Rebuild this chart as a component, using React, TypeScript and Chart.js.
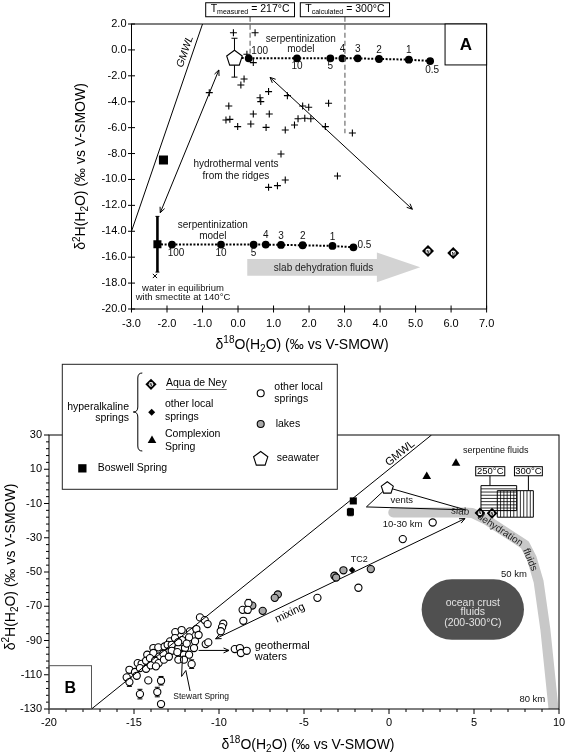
import React, { useEffect, useRef } from 'react';
import { Chart, registerables } from 'chart.js';

Chart.register(...registerables);

const FONT = '"Liberation Sans", Arial, Helvetica, sans-serif';
Chart.defaults.font.family = FONT;
Chart.defaults.color = '#000';

// ================= Panel A data =================
const tickAX = [-3, -2, -1, 0, 1, 2, 3, 4, 5, 6, 7];
const tickAY = [-20, -18, -16, -14, -12, -10, -8, -6, -4, -2, 0, 2];

const ventsX = [-0.13, 0.48, 0.25, 0.43, 0.17, 0.08, -0.81, 0.86, 0.62, 0.64,
  1.39, -0.26, 0.43, 0.88, -0.34, -0.23, -0.01, 0.36, 0.79, 1.33,
  1.59, 1.69, 1.88, 2.05, 1.82, 1.99, 2.55, 2.46, 3.22, 1.21,
  2.80, 0.86, 1.11, 1.33];
const ventsY = [1.33, 1.33, -0.34, -0.98, -2.25, -2.71, -3.30, -3.22, -3.69, -3.99,
  -3.53, -4.33, -4.95, -4.95, -5.41, -5.36, -5.92, -5.72, -5.98, -6.18,
  -5.80, -5.31, -5.28, -5.31, -4.33, -4.43, -4.12, -5.92, -6.41, -8.03,
  -9.73, -10.61, -10.48, -10.04];

const seawaterX = [-0.1];
const seawaterY = [-0.6];
const seawaterErr = [1.5];

const serpTopX = [0.30, 1.66, 2.60, 2.94, 3.37, 3.97, 4.81, 5.41];
const serpTopY = [-0.65, -0.65, -0.65, -0.65, -0.65, -0.70, -0.75, -0.86];
const serpLowX = [-1.86, -0.48, 0.44, 0.78, 1.21, 1.82, 2.66, 3.25];
const serpLowY = [-15.03, -15.03, -15.03, -15.03, -15.05, -15.08, -15.13, -15.24];
const serpLabels = ['100', '10', '5', '4', '3', '2', '1', '0.5'];

const boswellX = [-2.1, -2.27];
const boswellY = [-8.5, -15.0];
const boswellErr = [0, 2.15];

const smectiteX = [-2.34];
const smectiteY = [-17.45];

const adnX = [5.35, 6.06];
const adnY = [-15.52, -15.68];

const gmwlAX = [-3, -1];
const gmwlAY = [-14, 2];

const tLineX = [0.34, 3.01];
const tLineTop = [2.56, 2.56];
const tLineBottom = [-0.26, -6.44];
const tSub = ['measured', 'calculated'];
const tValue = ['217°C', '300°C'];

// ================= Panel B data =================
const tickBX = [-20, -15, -10, -5, 0, 5, 10];
const tickBY = [-130, -110, -90, -70, -50, -30, -10, 10, 30];

const springsX = [
  -11.12, -10.84, -10.67, -12.57, -12.20, -11.71, -11.33, -12.88, -12.59, -12.18,
  -11.76, -11.41, -10.78, -10.63, -13.86, -13.57, -13.20, -13.02, -12.78, -12.39,
  -12.00, -11.47, -14.22, -13.86, -13.51, -13.27, -12.78, -12.45, -12.06, -11.76,
  -14.78, -14.55, -14.29, -14.06, -13.76, -13.55, -13.24, -12.39, -12.06, -11.61,
  -15.27, -14.94, -14.65, -14.29, -14.02, -13.71, -14.16, -14.84, -15.43, -15.27,
  -14.65, -13.63, -13.41, -13.41, -12.95, -11.90, -12.40, -11.20, -9.75, -9.82,
  -9.90, -8.27, -8.61, -8.31, -8.57, -9.07, -8.77, -8.71, -8.37, -4.21,
  -1.80, 0.81, 2.57];
const springsY = [
  -76.5, -78.1, -80.4, -85.1, -83.9, -84.7, -83.3, -90.5, -88.6, -89.8,
  -88.2, -90.5, -92.1, -91.1, -94.4, -94.0, -93.5, -92.5, -92.5, -94.4,
  -94.4, -94.4, -98.3, -97.3, -99.3, -97.7, -96.0, -96.8, -98.3, -98.3,
  -103.2, -103.6, -101.8, -100.3, -101.8, -103.2, -101.2, -101.2, -101.2, -103.8,
  -107.1, -108.4, -106.1, -106.5, -104.5, -105.1, -113.3, -110.6, -111.5, -114.3,
  -121.3, -120.1, -113.5, -127.1, -99.5, -91.8, -91.0, -86.8, -80.2, -82.2,
  -84.6, -68.2, -72.1, -72.1, -78.5, -95.0, -94.4, -97.3, -96.0, -65.1,
  -59.2, -30.8, -21.1];

const lakesX = [-8.04, -7.43, -6.54, -6.72, -3.21, -3.11, -2.68, -1.07];
const lakesY = [-69.6, -72.7, -63.1, -65.1, -52.2, -53.2, -49.0, -48.3];

const otherHypX = [-12.15, -2.17];
const otherHypY = [-95.5, -48.9];

const complexionX = [2.22, 3.94];
const complexionY = [5.7, 13.5];

const errBX = [-11.61, -15.27, -14.65, -13.63, -13.41, -8.27, -8.31];
const errBY = [-103.8, -114.3, -121.3, -120.1, -113.5, -68.2, -72.1];
const errBE = [2.5, 2.5, 2.8, 2.8, 2.5, 2.2, 2.0];

const gmwlBX = [-17.5, 2.5];
const gmwlBY = [-130, 30];

const bandX = [0.25, 4.4, 4.9, 5.75, 7.1, 8.0, 8.4, 8.8, 9.2, 9.7];
const bandY = [-15.3, -15.2, -15.6, -19.6, -28.3, -34.2, -42.0, -55.6, -83.7, -132];

// ================= helpers =================
type Part = { t: string; s?: 'sup' | 'sub' };

function txt(ctx: any, s: string, x: number, y: number, size: number, o: any = {}) {
  ctx.save();
  ctx.translate(x, y);
  if (o.rot) ctx.rotate(o.rot);
  ctx.font = `${o.italic ? 'italic ' : ''}${o.bold ? 'bold ' : ''}${size}px ${FONT}`;
  ctx.fillStyle = o.color || '#000';
  ctx.textAlign = o.align || 'center';
  ctx.textBaseline = 'middle';
  ctx.fillText(s, 0, 0);
  ctx.restore();
}

function rich(ctx: any, parts: Part[], x: number, y: number, size: number, rot = 0, subScale = 0.68) {
  ctx.save();
  ctx.translate(x, y);
  ctx.rotate(rot);
  ctx.textBaseline = 'middle';
  ctx.textAlign = 'left';
  ctx.fillStyle = '#000';
  const fontOf = (p: Part) => `${p.s ? Math.round(size * subScale) : size}px ${FONT}`;
  let w = 0;
  const ws = parts.map((p) => { ctx.font = fontOf(p); const m = ctx.measureText(p.t).width; w += m; return m; });
  let cx = -w / 2;
  parts.forEach((p, i) => {
    ctx.font = fontOf(p);
    const dy = p.s === 'sup' ? -size * 0.33 : p.s === 'sub' ? size * 0.3 : 0;
    ctx.fillText(p.t, cx, dy);
    cx += ws[i];
  });
  ctx.restore();
  return w;
}

function richWidth(ctx: any, parts: Part[], size: number, subScale = 0.68) {
  let w = 0;
  ctx.save();
  parts.forEach((p) => { ctx.font = `${p.s ? Math.round(size * subScale) : size}px ${FONT}`; w += ctx.measureText(p.t).width; });
  ctx.restore();
  return w;
}

function head(ctx: any, x1: number, y1: number, x2: number, y2: number, size: number) {
  const a = Math.atan2(y2 - y1, x2 - x1);
  ctx.beginPath();
  ctx.moveTo(x2 - size * Math.cos(a - 0.42), y2 - size * Math.sin(a - 0.42));
  ctx.lineTo(x2, y2);
  ctx.lineTo(x2 - size * Math.cos(a + 0.42), y2 - size * Math.sin(a + 0.42));
  ctx.stroke();
}

function arrow(ctx: any, x1: number, y1: number, x2: number, y2: number, both: boolean, size = 6) {
  ctx.beginPath();
  ctx.moveTo(x1, y1);
  ctx.lineTo(x2, y2);
  ctx.stroke();
  head(ctx, x1, y1, x2, y2, size);
  if (both) head(ctx, x2, y2, x1, y1, size);
}

function errBar(ctx: any, x: number, yt: number, yb: number, lw: number, cap: number) {
  ctx.save();
  ctx.strokeStyle = '#000';
  ctx.lineWidth = lw;
  ctx.beginPath();
  ctx.moveTo(x, yt); ctx.lineTo(x, yb);
  ctx.stroke();
  ctx.lineWidth = 1;
  ctx.beginPath();
  ctx.moveTo(x - cap, yt); ctx.lineTo(x + cap, yt);
  ctx.moveTo(x - cap, yb); ctx.lineTo(x + cap, yb);
  ctx.stroke();
  ctx.restore();
}

function drawPentagon(ctx: any, x: number, y: number, r: number, lw = 1.1) {
  ctx.save();
  ctx.translate(x, y + r * 0.1);
  ctx.beginPath();
  for (let i = 0; i < 5; i++) {
    const a = -Math.PI / 2 + (i * 2 * Math.PI) / 5;
    const px = r * Math.cos(a), py = r * Math.sin(a);
    if (i === 0) ctx.moveTo(px, py); else ctx.lineTo(px, py);
  }
  ctx.closePath();
  ctx.fillStyle = '#fff'; ctx.fill();
  ctx.lineWidth = lw; ctx.strokeStyle = '#000'; ctx.stroke();
  ctx.restore();
}

function drawAdn(ctx: any, x: number, y: number, r: number) {
  ctx.save();
  ctx.translate(x, y);
  ctx.beginPath();
  ctx.moveTo(0, -r); ctx.lineTo(r, 0); ctx.lineTo(0, r); ctx.lineTo(-r, 0); ctx.closePath();
  ctx.fillStyle = '#000'; ctx.fill();
  ctx.beginPath(); ctx.arc(0, 0, r * 0.42, 0, Math.PI * 2); ctx.fillStyle = '#fff'; ctx.fill();
  ctx.fillStyle = '#000';
  ctx.font = `bold ${Math.max(4, r * 0.7)}px ${FONT}`;
  ctx.textAlign = 'center'; ctx.textBaseline = 'middle';
  ctx.fillText('N', 0, 0.4);
  ctx.restore();
}

// draws custom symbols at the positions the library computed for datasets marked with `symbol`
function drawSymbols(chart: any) {
  const ctx = chart.ctx;
  chart.data.datasets.forEach((ds: any, i: number) => {
    if (!ds.symbol) return;
    const meta = chart.getDatasetMeta(i);
    meta.data.forEach((el: any) => {
      if (ds.symbol === 'pentagon') drawPentagon(ctx, el.x, el.y, ds.symR);
      else if (ds.symbol === 'adn') drawAdn(ctx, el.x, el.y, ds.symR);
    });
  });
}

const pts = (xs: number[], ys: number[]) => xs.map((x, i) => ({ x, y: ys[i] }));

const xTitle: Part[] = [{ t: 'δ' }, { t: '18', s: 'sup' }, { t: 'O(H' }, { t: '2', s: 'sub' }, { t: 'O) (‰ vs V-SMOW)' }];
const yTitle: Part[] = [{ t: 'δ' }, { t: '2', s: 'sup' }, { t: 'H(H' }, { t: '2', s: 'sub' }, { t: 'O) (‰ vs V-SMOW)' }];

// ================= Panel A annotations =================
const slabArrowA = { x0: 0.26, neck: 3.91, tip: 5.13, y: -16.78, body: 0.645, head: 1.15 };
const arrowsA = [[-0.54, -1.55, -2.19, -12.57], [0.90, -2.12, 4.91, -12.3]];
const textsA = [
  { t: 'serpentinization', x: 1.77, y: 0.84, s: 10 },
  { t: 'model', x: 1.77, y: 0.05, s: 10 },
  { t: 'hydrothermal vents', x: -0.06, y: -8.81, s: 10 },
  { t: 'from the ridges', x: -0.06, y: -9.79, s: 10 },
  { t: 'serpentinization', x: -0.71, y: -13.57, s: 10 },
  { t: 'model', x: -0.71, y: -14.4, s: 10 },
  { t: 'water in equilibrium', x: -1.55, y: -18.4, s: 9.5 },
  { t: 'with smectite at 140°C', x: -1.55, y: -19.1, s: 9.5 },
];
const serpTopPlace = [[11, -7], [0, 8], [0, 8], [0, -9], [0, -9], [0, -9], [0, -9], [2, 9]];
const serpLowPlace = [[4, 9], [0, 9], [0, 9], [0, -9], [0, -9], [0, -9], [0, -9], [11, -2]];

const annA = {
  id: 'annA',
  beforeDatasetsDraw(chart: any) {
    const ctx = chart.ctx;
    const X = (v: number) => chart.scales.x.getPixelForValue(v);
    const Y = (v: number) => chart.scales.y.getPixelForValue(v);
    ctx.save();
    const s = slabArrowA;
    ctx.fillStyle = '#d3d3d3';
    ctx.beginPath();
    ctx.moveTo(X(s.x0), Y(s.y + s.body));
    ctx.lineTo(X(s.neck), Y(s.y + s.body));
    ctx.lineTo(X(s.neck), Y(s.y + s.head));
    ctx.lineTo(X(s.tip), Y(s.y));
    ctx.lineTo(X(s.neck), Y(s.y - s.head));
    ctx.lineTo(X(s.neck), Y(s.y - s.body));
    ctx.lineTo(X(s.x0), Y(s.y - s.body));
    ctx.closePath();
    ctx.fill();
    txt(ctx, 'slab dehydration fluids', X(2.41), Y(-16.86), 10, { color: '#222' });
    errBar(ctx, X(seawaterX[0]), Y(seawaterY[0] + seawaterErr[0]), Y(seawaterY[0] - seawaterErr[0]), 1, 3);
    errBar(ctx, X(boswellX[1]), Y(boswellY[1] + boswellErr[1]), Y(boswellY[1] - boswellErr[1]), 2.6, 2);
    ctx.restore();
  },
  afterDatasetsDraw(chart: any) {
    const ctx = chart.ctx;
    const ca = chart.chartArea;
    const X = (v: number) => chart.scales.x.getPixelForValue(v);
    const Y = (v: number) => chart.scales.y.getPixelForValue(v);
    drawSymbols(chart);
    ctx.save();
    ctx.strokeStyle = '#000';
    ctx.lineWidth = 1;
    ctx.strokeRect(ca.left, ca.top, ca.right - ca.left, ca.bottom - ca.top);
    ctx.beginPath();
    tickAX.forEach((v) => { const x = X(v); ctx.moveTo(x, ca.bottom - 3.5); ctx.lineTo(x, ca.bottom + 3.5); });
    tickAY.forEach((v) => { const y = Y(v); ctx.moveTo(ca.left - 3.5, y); ctx.lineTo(ca.left + 3.5, y); });
    ctx.stroke();

    ctx.lineWidth = 1;
    arrowsA.forEach((a) => arrow(ctx, X(a[0]), Y(a[1]), X(a[2]), Y(a[3]), true, 6));

    const ang = Math.atan2(Y(gmwlAY[1]) - Y(gmwlAY[0]), X(gmwlAX[1]) - X(gmwlAX[0]));
    txt(ctx, 'GMWL', X(-1.49), Y(-0.14), 10.5, { rot: ang, italic: true });

    textsA.forEach((t) => txt(ctx, t.t, X(t.x), Y(t.y), t.s, { color: '#111' }));

    serpLabels.forEach((l, i) => {
      txt(ctx, l, X(serpTopX[i]) + serpTopPlace[i][0], Y(serpTopY[i]) + serpTopPlace[i][1], 10, { color: '#111' });
      txt(ctx, l, X(serpLowX[i]) + serpLowPlace[i][0], Y(serpLowY[i]) + serpLowPlace[i][1], 10, { color: '#111' });
    });

    const ax0 = X(5.83);
    ctx.fillStyle = '#fff';
    ctx.fillRect(ax0, ca.top, ca.right - ax0, Y(-1.16) - ca.top);
    ctx.strokeRect(ax0, ca.top, ca.right - ax0, Y(-1.16) - ca.top);
    txt(ctx, 'A', (ax0 + ca.right) / 2, (ca.top + Y(-1.16)) / 2 + 1, 17, { bold: true });

    tLineX.forEach((v, i) => {
      const parts: Part[] = [{ t: 'T' }, { t: tSub[i], s: 'sub' }, { t: ' = ' + tValue[i] }];
      const w = richWidth(ctx, parts, 10.5, 0.66) + 10;
      const cx = X(v);
      const top = Y(tLineTop[i]) - 14;
      ctx.fillStyle = '#fff';
      ctx.fillRect(cx - w / 2, top, w, 14);
      ctx.strokeStyle = '#000';
      ctx.strokeRect(cx - w / 2, top, w, 14);
      rich(ctx, parts, cx, top + 6.5, 10.5, 0, 0.66);
    });

    rich(ctx, xTitle, (ca.left + ca.right) / 2 - 7, ca.bottom + 36, 14);
    rich(ctx, yTitle, ca.left - 50, (ca.top + ca.bottom) / 2, 14, -Math.PI / 2);
    ctx.restore();
  },
};

// ================= Panel B annotations =================
const ventsTriB = [[-1.33, -12.0], [-0.1, -0.6], [4.5, -13.7]];
const mixingArrow = [-10.2, -89.0, 4.47, -18.8];
const geoArrow = [-11.2, -95.8, -9.41, -95.8];
const stewartLeader = [[-12.15, -99], [-12.2, -111], [-11.95, -107.5], [-11.7, -119.5]];
const oceanBox = { x0: 1.92, x1: 7.94, y0: -54.2, y1: -89.6 };
const hatch250 = { x0: 5.41, x1: 7.51, y0: 0.43, y1: -14.15 };
const hatch300 = { x0: 6.37, x1: 8.49, y0: -2.5, y1: -18.0 };
const tempBoxes = [
  { t: '250°C', x0: 5.10, x1: 6.81, link: 5.94, linkTo: 0.43 },
  { t: '300°C', x0: 7.38, x1: 9.02, link: 8.2, linkTo: -2.5 },
];
const textsB = [
  { t: 'vents', x: 0.75, y: -7.9, s: 9.5 },
  { t: '10-30 km', x: 0.8, y: -21.9, s: 9.5 },
  { t: '50 km', x: 7.35, y: -51.3, s: 9.5 },
  { t: '80 km', x: 8.43, y: -124.6, s: 9.5 },
  { t: 'TC2', x: -1.75, y: -42.9, s: 9 },
  { t: 'Stewart Spring', x: -11.05, y: -122.6, s: 8.5 },
  { t: 'serpentine fluids', x: 6.28, y: 21.2, s: 9 },
];

function drawLegendB(ctx: any) {
  const L = { x0: 62.3, y0: 6.3, x1: 337.3, y1: 131.3 };
  ctx.save();
  ctx.fillStyle = '#fff';
  ctx.fillRect(L.x0, L.y0, L.x1 - L.x0, L.y1 - L.y0);
  ctx.strokeStyle = '#222';
  ctx.lineWidth = 1;
  ctx.strokeRect(L.x0, L.y0, L.x1 - L.x0, L.y1 - L.y0);
  const fs = 10.5;
  txt(ctx, 'hyperalkaline', 129, 48.7, fs, { align: 'right' });
  txt(ctx, 'springs', 129, 60.3, fs, { align: 'right' });
  const xr = 142.3, xm = 137.8, xl = 133.3, top = 15, mid = 54, bot = 93;
  ctx.strokeStyle = '#000';
  ctx.beginPath();
  ctx.moveTo(xr, top);
  ctx.quadraticCurveTo(xm, top, xm, top + 5);
  ctx.lineTo(xm, mid - 5);
  ctx.quadraticCurveTo(xm, mid, xl, mid);
  ctx.quadraticCurveTo(xm, mid, xm, mid + 5);
  ctx.lineTo(xm, bot - 5);
  ctx.quadraticCurveTo(xm, bot, xr, bot);
  ctx.stroke();
  drawAdn(ctx, 151, 26.3, 5.6);
  txt(ctx, 'Aqua de Ney', 166, 25.3, fs, { align: 'left' });
  ctx.font = `${fs}px ${FONT}`;
  const w = ctx.measureText('Aqua de Ney').width;
  ctx.strokeStyle = '#666';
  ctx.beginPath(); ctx.moveTo(166, 31.5); ctx.lineTo(166 + w, 31.5); ctx.stroke();
  ctx.fillStyle = '#000';
  ctx.beginPath(); ctx.moveTo(151.7, 50.8); ctx.lineTo(155.2, 54.3); ctx.lineTo(151.7, 57.8); ctx.lineTo(148.2, 54.3); ctx.closePath(); ctx.fill();
  txt(ctx, 'other local', 165, 46.3, fs, { align: 'left' });
  txt(ctx, 'springs', 165, 58.7, fs, { align: 'left' });
  ctx.beginPath(); ctx.moveTo(152, 77.5); ctx.lineTo(156.3, 85); ctx.lineTo(147.7, 85); ctx.closePath(); ctx.fill();
  txt(ctx, 'Complexion', 165, 76, fs, { align: 'left' });
  txt(ctx, 'Spring', 165, 88.7, fs, { align: 'left' });
  ctx.fillRect(78.2, 106.2, 8.3, 8.3);
  txt(ctx, 'Boswell Spring', 97.7, 110.3, fs, { align: 'left' });
  ctx.beginPath(); ctx.arc(260.7, 35.3, 3.5, 0, Math.PI * 2); ctx.fillStyle = '#fff'; ctx.fill(); ctx.strokeStyle = '#000'; ctx.lineWidth = 1.1; ctx.stroke();
  txt(ctx, 'other local', 274.3, 29.3, fs, { align: 'left' });
  txt(ctx, 'springs', 274.3, 41.3, fs, { align: 'left' });
  ctx.beginPath(); ctx.arc(260.7, 66, 3.5, 0, Math.PI * 2); ctx.fillStyle = '#a8a8a8'; ctx.fill(); ctx.stroke();
  txt(ctx, 'lakes', 275.7, 66, fs, { align: 'left' });
  drawPentagon(ctx, 260.7, 100.3, 7.5);
  txt(ctx, 'seawater', 276.7, 100, fs, { align: 'left' });
  ctx.restore();
}

const annB = {
  id: 'annB',
  beforeDatasetsDraw(chart: any) {
    const ctx = chart.ctx;
    const ca = chart.chartArea;
    const X = (v: number) => chart.scales.x.getPixelForValue(v);
    const Y = (v: number) => chart.scales.y.getPixelForValue(v);
    ctx.save();
    ctx.beginPath();
    ctx.rect(ca.left, ca.top, ca.right - ca.left, ca.bottom - ca.top);
    ctx.clip();
    ctx.strokeStyle = '#c8c8c8';
    ctx.lineWidth = 10;
    ctx.lineCap = 'round';
    ctx.lineJoin = 'round';
    ctx.beginPath();
    bandX.forEach((x, i) => { if (i === 0) ctx.moveTo(X(x), Y(bandY[i])); else ctx.lineTo(X(x), Y(bandY[i])); });
    ctx.stroke();
    ctx.lineCap = 'butt';
    const ox0 = X(oceanBox.x0), ox1 = X(oceanBox.x1), oy0 = Y(oceanBox.y0), oy1 = Y(oceanBox.y1);
    const r = (oy1 - oy0) / 2;
    ctx.fillStyle = '#505050';
    ctx.beginPath();
    ctx.moveTo(ox0 + r, oy0);
    ctx.lineTo(ox1 - r, oy0);
    ctx.arc(ox1 - r, oy0 + r, r, -Math.PI / 2, Math.PI / 2);
    ctx.lineTo(ox0 + r, oy1);
    ctx.arc(ox0 + r, oy0 + r, r, Math.PI / 2, Math.PI * 1.5);
    ctx.closePath();
    ctx.fill();
    const ocx = (ox0 + ox1) / 2;
    txt(ctx, 'ocean crust', ocx, Y(-68.2), 10.5, { color: '#e2e2e2' });
    txt(ctx, 'fluids', ocx, Y(-73.7), 10.5, { color: '#e2e2e2' });
    txt(ctx, '(200-300°C)', ocx, Y(-79.9), 10.5, { color: '#e2e2e2' });
    ctx.strokeStyle = '#000';
    ctx.lineWidth = 0.8;
    [hatch250, hatch300].forEach((h, k) => {
      const x0 = X(h.x0), x1 = X(h.x1), y0 = Y(h.y0), y1 = Y(h.y1);
      ctx.save();
      ctx.beginPath(); ctx.rect(x0, y0, x1 - x0, y1 - y0); ctx.clip();
      ctx.beginPath();
      if (k === 0) for (let y = y0 + 3.2; y < y1; y += 3.2) { ctx.moveTo(x0, y); ctx.lineTo(x1, y); }
      else for (let x = x0 + 3.3; x < x1; x += 3.3) { ctx.moveTo(x, y0); ctx.lineTo(x, y1); }
      ctx.stroke();
      ctx.restore();
      ctx.lineWidth = 1;
      ctx.strokeRect(x0, y0, x1 - x0, y1 - y0);
      ctx.lineWidth = 0.8;
    });
    ctx.lineWidth = 1;
    ctx.beginPath();
    ventsTriB.forEach((p, i) => { if (i === 0) ctx.moveTo(X(p[0]), Y(p[1])); else ctx.lineTo(X(p[0]), Y(p[1])); });
    ctx.closePath();
    ctx.stroke();
    txt(ctx, 'slab', X(4.18), Y(-14.7), 10, { color: '#222', rot: 0.08 });
    txt(ctx, 'dehydration', X(6.53), Y(-25.4), 10, { color: '#222', rot: 0.58 });
    txt(ctx, 'fluids', X(8.29), Y(-42.9), 10, { color: '#222', rot: 1.18 });
    ctx.strokeStyle = '#000';
    ctx.lineWidth = 1;
    arrow(ctx, X(mixingArrow[0]), Y(mixingArrow[1]), X(mixingArrow[2]), Y(mixingArrow[3]), true, 6);
    arrow(ctx, X(geoArrow[0]), Y(geoArrow[1]), X(geoArrow[2]), Y(geoArrow[3]), false, 6);
    errBX.forEach((x, i) => errBar(ctx, X(x), Y(errBY[i] + errBE[i]), Y(errBY[i] - errBE[i]), 1, 2.5));
    errBar(ctx, X(boswellX[1]), Y(boswellY[1] + boswellErr[1]), Y(boswellY[1] - boswellErr[1]), 1, 2.5);
    ctx.restore();
  },
  afterDatasetsDraw(chart: any) {
    const ctx = chart.ctx;
    const ca = chart.chartArea;
    const X = (v: number) => chart.scales.x.getPixelForValue(v);
    const Y = (v: number) => chart.scales.y.getPixelForValue(v);
    drawSymbols(chart);
    ctx.save();
    ctx.strokeStyle = '#000';
    ctx.lineWidth = 1;
    ctx.strokeRect(ca.left, ca.top, ca.right - ca.left, ca.bottom - ca.top);
    ctx.beginPath();
    for (let v = tickBX[0]; v <= tickBX[tickBX.length - 1]; v += 1) {
      const len = tickBX.includes(v) ? 5 : 3;
      const x = X(v);
      ctx.moveTo(x, ca.bottom); ctx.lineTo(x, ca.bottom + len);
    }
    for (let v = tickBY[0]; v <= tickBY[tickBY.length - 1]; v += 4) {
      const len = tickBY.includes(v) ? 5 : 3;
      const y = Y(v);
      ctx.moveTo(ca.left, y); ctx.lineTo(ca.left - len, y);
    }
    ctx.stroke();

    const ang = Math.atan2(Y(gmwlBY[1]) - Y(gmwlBY[0]), X(gmwlBX[1]) - X(gmwlBX[0]));
    txt(ctx, 'GMWL', X(0.65), Y(19.3), 11, { rot: ang });
    const ma = Math.atan2(Y(mixingArrow[3]) - Y(mixingArrow[1]), X(mixingArrow[2]) - X(mixingArrow[0]));
    txt(ctx, 'mixing', X(-5.83), Y(-74.0), 11, { rot: ma });
    txt(ctx, 'geothermal', X(-7.9), Y(-93.1), 11, { align: 'left' });
    txt(ctx, 'waters', X(-7.9), Y(-99.7), 11, { align: 'left' });
    textsB.forEach((t) => txt(ctx, t.t, X(t.x), Y(t.y), t.s, { color: '#111' }));

    ctx.beginPath();
    stewartLeader.forEach((p, i) => { if (i === 0) ctx.moveTo(X(p[0]), Y(p[1])); else ctx.lineTo(X(p[0]), Y(p[1])); });
    ctx.stroke();

    tempBoxes.forEach((b) => {
      const x0 = X(b.x0), x1 = X(b.x1), y0 = Y(11.5), y1 = Y(6.2);
      ctx.fillStyle = '#fff';
      ctx.fillRect(x0, y0, x1 - x0, y1 - y0);
      ctx.strokeRect(x0, y0, x1 - x0, y1 - y0);
      txt(ctx, b.t, (x0 + x1) / 2, (y0 + y1) / 2 + 0.5, 9.5);
      ctx.beginPath();
      ctx.moveTo(X(b.link), y1); ctx.lineTo(X(b.link), Y(b.linkTo));
      ctx.stroke();
    });

    const bx1 = X(-17.5), by0 = Y(-104.7);
    ctx.strokeStyle = '#555';
    ctx.strokeRect(ca.left, by0, bx1 - ca.left, ca.bottom - by0);
    txt(ctx, 'B', (ca.left + bx1) / 2, (by0 + ca.bottom) / 2 + 1, 16, { bold: true });

    drawLegendB(ctx);

    rich(ctx, xTitle, (ca.left + ca.right) / 2 + 4, ca.bottom + 36, 14);
    rich(ctx, yTitle, 11, (ca.top + ca.bottom) / 2 - 5, 14, -Math.PI / 2);
    ctx.restore();
  },
};

function scaleOpts(min: number, max: number, ticks: number[], isX: boolean, size: number, fmt: (v: number) => string, tl: number, pad: number) {
  return {
    type: 'linear',
    position: isX ? 'bottom' : 'left',
    min,
    max,
    afterBuildTicks: (s: any) => { s.ticks = ticks.map((v) => ({ value: v })); },
    afterFit: (s: any) => { if (isX) s.height = 30; else s.width = size; },
    ticks: {
      autoSkip: false,
      maxRotation: 0,
      padding: pad,
      color: '#000',
      font: { family: FONT, size: 11 },
      callback: (v: any) => fmt(Number(v)),
    },
    grid: { display: true, drawOnChartArea: false, drawTicks: true, tickLength: tl, tickColor: 'rgba(0,0,0,0)', color: 'rgba(0,0,0,0)' },
    border: { display: false },
  };
}

function makeChartA(canvas: HTMLCanvasElement) {
  const lineStyle = { showLine: true, borderColor: '#000', pointBackgroundColor: '#000', pointBorderColor: '#000' };
  return new Chart(canvas, {
    type: 'scatter',
    data: {
      datasets: [
        { label: 'GMWL', data: pts(gmwlAX, gmwlAY), showLine: true, borderColor: '#000', borderWidth: 1, pointRadius: 0 },
        ...tLineX.map((x, i) => ({
          label: 'T' + i, data: [{ x, y: tLineTop[i] }, { x, y: tLineBottom[i] }], showLine: true,
          borderColor: '#7a7a7a', borderWidth: 1.3, borderDash: [5, 3], pointRadius: 0, clip: false,
        })),
        {
          label: 'serp top', data: [{ x: seawaterX[0], y: seawaterY[0] }, ...pts(serpTopX, serpTopY)], ...lineStyle,
          borderWidth: 2, borderDash: [2, 1.6], pointRadius: [0, ...serpTopX.map(() => 2.9)],
        },
        {
          label: 'serp low', data: [{ x: boswellX[1], y: boswellY[1] }, ...pts(serpLowX, serpLowY)], ...lineStyle,
          borderWidth: 2, borderDash: [2, 1.6], pointRadius: [0, ...serpLowX.map(() => 2.9)],
        },
        { label: 'vents', data: pts(ventsX, ventsY), pointStyle: 'cross', pointRadius: 3.5, borderColor: '#000', borderWidth: 1.1 },
        { label: 'seawater', data: pts(seawaterX, seawaterY), pointRadius: 0, symbol: 'pentagon', symR: 8.2 },
        { label: 'Boswell', data: pts(boswellX, boswellY), pointStyle: 'rect', pointRadius: [6.4, 5.7], backgroundColor: '#000', borderColor: '#000', borderWidth: 0 },
        { label: 'smectite', data: pts(smectiteX, smectiteY), pointStyle: 'crossRot', pointRadius: 3, borderColor: '#000', borderWidth: 1 },
        { label: 'Aqua de Ney', data: pts(adnX, adnY), pointRadius: 0, symbol: 'adn', symR: 6 },
      ],
    },
    options: {
      responsive: false,
      animation: false,
      devicePixelRatio: 1,
      events: [],
      layout: { padding: { left: 0, top: 24, right: 81.4, bottom: 19 } },
      plugins: { legend: { display: false }, tooltip: { enabled: false } },
      scales: {
        x: scaleOpts(-3, 7, tickAX, true, 30, (v) => v.toFixed(1), 4, 4),
        y: scaleOpts(-20, 2, tickAY, false, 131.5, (v) => v.toFixed(1), 3, 2),
      },
    } as any,
    plugins: [annA],
  } as any);
}

function makeChartB(canvas: HTMLCanvasElement) {
  return new Chart(canvas, {
    type: 'scatter',
    data: {
      datasets: [
        { label: 'GMWL', data: pts(gmwlBX, gmwlBY), showLine: true, borderColor: '#000', borderWidth: 1, pointRadius: 0 },
        { label: 'other local springs', data: pts(springsX, springsY), pointStyle: 'circle', pointRadius: 3.6, backgroundColor: '#fff', borderColor: '#000', borderWidth: 1.1 },
        { label: 'lakes', data: pts(lakesX, lakesY), pointStyle: 'circle', pointRadius: 3.6, backgroundColor: '#a8a8a8', borderColor: '#000', borderWidth: 1.1 },
        { label: 'other hyperalkaline', data: pts(otherHypX, otherHypY), pointStyle: 'rectRot', pointRadius: 3.3, backgroundColor: '#000', borderColor: '#000', borderWidth: 0 },
        { label: 'Complexion Spring', data: pts(complexionX, complexionY), pointStyle: 'triangle', pointRadius: 5, backgroundColor: '#000', borderColor: '#000', borderWidth: 0 },
        { label: 'Boswell Spring', data: pts(boswellX, boswellY), pointStyle: 'rect', pointRadius: 5, backgroundColor: '#000', borderColor: '#000', borderWidth: 0 },
        { label: 'seawater', data: pts(seawaterX, seawaterY), pointRadius: 0, symbol: 'pentagon', symR: 6.3 },
        { label: 'Aqua de Ney', data: pts(adnX, adnY), pointRadius: 0, symbol: 'adn', symR: 5.4 },
      ],
    },
    options: {
      responsive: false,
      animation: false,
      devicePixelRatio: 1,
      events: [],
      layout: { padding: { left: 0, top: 77, right: 9, bottom: 16 } },
      plugins: { legend: { display: false }, tooltip: { enabled: false } },
      scales: {
        x: scaleOpts(-20, 10, tickBX, true, 30, (v) => String(v), 5, 2),
        y: scaleOpts(-130, 30, tickBY, false, 49, (v) => String(v), 5, 2),
      },
    } as any,
    plugins: [annB],
  } as any);
}

export default function App() {
  const refA = useRef<HTMLCanvasElement>(null);
  const refB = useRef<HTMLCanvasElement>(null);
  useEffect(() => {
    const a = makeChartA(refA.current!);
    const b = makeChartB(refB.current!);
    return () => { a.destroy(); b.destroy(); };
  }, []);
  return (
    <div style={{ position: 'absolute', left: 0, top: 0, width: 568, height: 755, background: '#fff' }}>
      <canvas ref={refA} width={568} height={358} style={{ position: 'absolute', left: 0, top: 0, width: 568, height: 358 }} />
      <canvas ref={refB} width={568} height={397} style={{ position: 'absolute', left: 0, top: 358, width: 568, height: 397 }} />
    </div>
  );
}
